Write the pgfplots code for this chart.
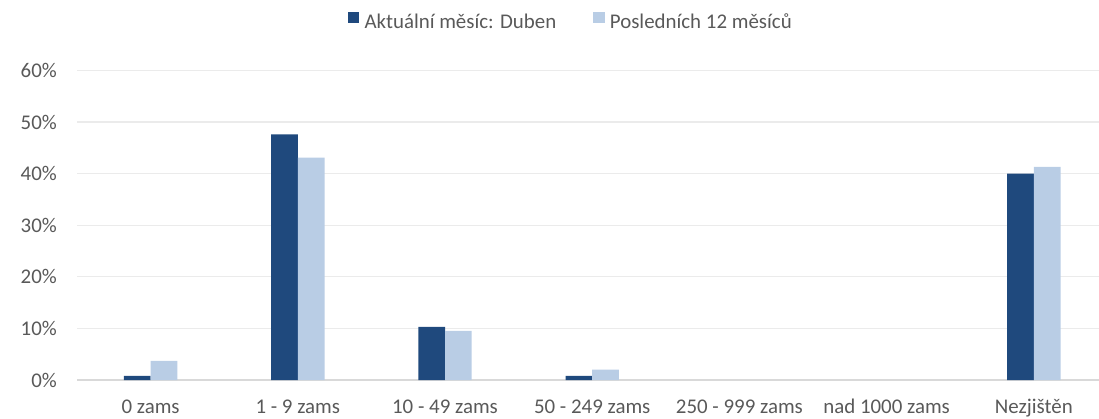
\documentclass[border=0pt]{standalone}
\usepackage{pgfplots}
\pgfplotsset{compat=1.18}
\usepackage{fontspec}
\setmainfont{Carlito}
\definecolor{darkbar}{HTML}{1F497D}
\definecolor{lightbar}{HTML}{B9CDE5}
\definecolor{txt}{HTML}{595959}
\definecolor{gridc}{HTML}{EBEBEB}
\definecolor{basec}{HTML}{D9D9D9}
\begin{document}
\begin{tikzpicture}
\begin{axis}[
  at={(77pt,38pt)}, anchor=south west,
  scale only axis,
  width=1022pt, height=309.6pt,
  xmin=-0.5, xmax=6.443,
  ymin=0, ymax=60,
  ybar=0pt, bar width=26.7pt,
  xtick={0,1,2,3,4,5,6},
  xticklabels={0 zams,1 - 9 zams,10 - 49 zams,50 - 249 zams,250 - 999 zams,nad 1000 zams,Nezjištěn},
  ytick={0,10,20,30,40,50,60},
  yticklabels={0\%,10\%,20\%,30\%,40\%,50\%,60\%},
  major tick length=0pt,
  ymajorgrids,
  grid style={gridc, line width=1.2pt},
  axis x line*=bottom, axis y line*=left,
  x axis line style={basec, line width=1.6pt, -},
  y axis line style={draw=none},
  tick label style={font=\fontsize{20.9}{25}\selectfont, text=txt},
  xticklabel style={anchor=north, inner sep=0pt, text height=14pt, text depth=4pt, yshift=-19pt},
  yticklabel style={anchor=east, inner sep=0pt, xshift=-20pt},
  legend columns=2,
  legend style={at={(0.2649,1.159)}, anchor=west, draw=none, fill=none, inner sep=0pt,
    font=\fontsize{20.9}{25}\selectfont, text=txt,
    nodes={inner sep=0pt},
    /tikz/every odd column/.append style={column sep=5.3pt},
    /tikz/every even column/.append style={column sep=37pt}},
  legend image code/.code={\fill[#1] (0pt,-1pt) rectangle (11.3pt,10.3pt);},
]
\addplot[fill=darkbar, draw=none] coordinates {(0,0.8) (1,47.6) (2,10.3) (3,0.8) (6,40.0)};
\addplot[fill=lightbar, draw=none] coordinates {(0,3.7) (1,43.1) (2,9.5) (3,2.0) (6,41.3)};
\legend{Aktuální měsíc: Duben, Posledních 12 měsíců}
\end{axis}
\pgfresetboundingbox
\path (0,0) rectangle (1099pt,418pt);
\end{tikzpicture}
\end{document}
